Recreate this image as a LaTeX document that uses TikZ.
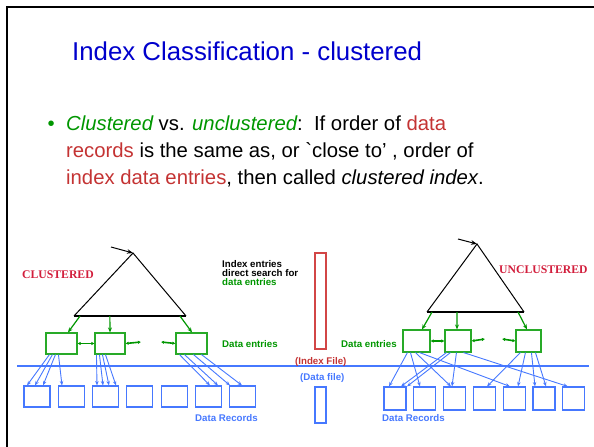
\documentclass[tikz,border=0pt]{standalone}
\usepackage{fontspec}
\setmainfont{Liberation Sans}
\newfontfamily\slidefont{Liberation Sans}
\newfontfamily\labelserif{Liberation Serif}
\usetikzlibrary{arrows.meta,calc}

\definecolor{titleblue}{RGB}{0,0,204}
\definecolor{termgreen}{RGB}{0,150,0}
\definecolor{termred}{RGB}{196,51,51}
\definecolor{boxgreen}{RGB}{40,170,40}
\definecolor{arrowgreen}{RGB}{0,150,0}
\definecolor{recblue}{RGB}{70,120,255}
\definecolor{filered}{RGB}{210,70,70}
\definecolor{capred}{RGB}{210,30,60}

\begin{document}
\begin{tikzpicture}[x=1bp,y=-1bp,
  txt/.style={inner sep=0pt,anchor=base west},
  bodytext/.style={txt,font=\slidefont\fontsize{20.3bp}{27bp}\selectfont},
  smalllabel/.style={txt,font=\bfseries\fontsize{9.7bp}{9bp}\selectfont},
  caplabel/.style={txt,text=capred,font=\labelserif\bfseries\fontsize{11.7bp}{13bp}\selectfont},
  entrybox/.style={draw=boxgreen,line width=1.1bp,inner sep=0pt,fill=white},
  recbox/.style={draw=recblue,line width=1.1bp,inner sep=0pt,fill=white},
  treeline/.style={draw=black,line width=1bp},
  downarrow/.style={draw=arrowgreen,line width=1.2bp,-{Stealth[length=5bp,width=4bp]}},
  linkarrow/.style={draw=arrowgreen,line width=1.6bp,{Latex[length=3bp,width=3.5bp]}-{Latex[length=3bp,width=3.5bp]}},
  recarrow/.style={draw=recblue,line width=0.9bp,-{Stealth[length=4.5bp,width=3.5bp]}},
  entryarrow/.style={draw=black,line width=1bp,-{Stealth[length=6bp,width=4.5bp]}}
]
\useasboundingbox (0,0) rectangle (594,447);

% slide frame
\draw[line width=2bp] (7,448) -- (7,7) -- (595,7);

% title and bullet text
\node[txt,text=titleblue,font=\slidefont\fontsize{25.8bp}{32bp}\selectfont] (title) at (72,61) {Index Classification - clustered};
\node[bodytext,text=termgreen] (bullet) at (47.5,131) {\textbullet};
\node[bodytext] (line1) at (66,131) {\textcolor{termgreen}{\itshape Clustered} vs. \textcolor{termgreen}{\itshape unclustered}:\ \ If order of \textcolor{termred}{data}};
\node[bodytext] (line2) at (66,158) {\textcolor{termred}{records} is the same as, or `close to’ , order of};
\node[bodytext] (line3) at (66,185) {\textcolor{termred}{index data entries}, then called {\itshape clustered index}.};

% ---------- clustered index (left) ----------
\coordinate (LA) at (133,253);
\coordinate (LL) at (74,316);
\coordinate (LR) at (186,316);
\coordinate (Lin) at (111,247);
\draw[treeline] (LL) -- (LA) -- (LR);
\draw[line width=1.8bp] (LL) -- (LR);
\draw[entryarrow] (Lin) -- (LA);

\node[entrybox,minimum width=31bp,minimum height=21bp] (Lb1) at (61.5,343.5) {};
\node[entrybox,minimum width=30bp,minimum height=21bp] (Lb2) at (110,343.5) {};
\node[entrybox,minimum width=31bp,minimum height=21bp] (Lb3) at (191.5,343.5) {};

\draw[downarrow] ($(LL)!0.054!(LR)$) -- ($(Lb1.north)+(6.5,0)$);
\draw[downarrow] ($(LL)!0.32!(LR)$) -- (Lb2.north);
\draw[downarrow] ($(LL)!0.946!(LR)$) -- ($(Lb3.north)+(0.5,0)$);

\coordinate (Lgap1) at (141,342);
\coordinate (Lgap2) at (161,342);
\draw[linkarrow] (Lb1.east) -- (Lb2.west);
\draw[linkarrow] (Lb2.east) -- (Lgap1);
\draw[linkarrow] (Lgap2) -- (Lb3.west);

\foreach \k in {1,...,7}
  \node[recbox,minimum width=26bp,minimum height=21bp] (Lr\k) at ({37+34.3*(\k-1)},396.5) {};

\foreach \s/\r/\t in {4/Lr1/-10,7/Lr1/-2,10/Lr1/6,13/Lr2/-9.3}
  \draw[recarrow] ($(Lb1.south west)+(\s,0)$) -- ($(\r.north)+(\t,0)$);
\foreach \s/\r/\t in {2/Lr3/-8.6,5/Lr3/-2.6,8/Lr3/3.4,11/Lr3/10.4}
  \draw[recarrow] ($(Lb2.south west)+(\s,0)$) -- ($(\r.north)+(\t,0)$);
\foreach \s/\r/\t in {4/Lr6/1.5,9/Lr6/9.5,18/Lr7/-12.8,26/Lr7/-0.8}
  \draw[recarrow] ($(Lb3.south west)+(\s,0)$) -- ($(\r.north)+(\t,0)$);

\node[caplabel] (clust) at (22,279) {CLUSTERED};
% base of a multi-line node sits on its last line
\node[smalllabel,align=left,anchor=base west] (search) at (222,286) {Index entries\\direct search for\\\textcolor{termgreen}{data entries}};
\node[smalllabel,text=termgreen] (Lde) at (222,347) {Data entries};
\node[smalllabel,text=recblue] (Ldr) at (195,421) {Data Records};

% ---------- file split ----------
\draw[recblue,line width=1.1bp] (17,366) coordinate (split0) -- (589,366) coordinate (split1);
\node[draw=filered,line width=1.1bp,inner sep=0pt,minimum width=11bp,minimum height=96bp] (idxfile) at (320.5,301) {};
\node[draw=recblue,line width=1.1bp,inner sep=0pt,minimum width=11bp,minimum height=36bp] (datfile) at (320.5,405) {};
\node[smalllabel,text=termred] (idxlbl) at (295,364) {(Index File)};
\node[smalllabel,text=recblue] (datlbl) at (300,380) {(Data file)};

% ---------- unclustered index (right) ----------
\coordinate (RA) at (477,244);
\coordinate (RL) at (427,312);
\coordinate (RR) at (524,312);
\coordinate (Rin) at (458,239);
\draw[treeline] (RL) -- (RA) -- (RR);
\draw[line width=1.8bp] (RL) -- (RR);
\draw[entryarrow] (Rin) -- (RA);

\node[entrybox,minimum width=27bp,minimum height=22bp] (Rb1) at (416.5,341) {};
\node[entrybox,minimum width=26bp,minimum height=22bp] (Rb2) at (458,341) {};
\node[entrybox,minimum width=25bp,minimum height=22bp] (Rb3) at (528.5,341) {};

\draw[downarrow] ($(RL)!0.052!(RR)$) -- ($(Rb1.north)+(5.5,0)$);
\draw[downarrow] ($(RL)!0.309!(RR)$) -- ($(Rb2.north)+(-1,0)$);
\draw[downarrow] ($(RL)!0.938!(RR)$) -- ($(Rb3.north)+(-1.5,0)$);

\coordinate (Rgap1) at (485,339);
\coordinate (Rgap2) at (502,339);
\draw[linkarrow] (Rb1.east) -- (Rb2.west);
\draw[linkarrow] (Rb2.east) -- (Rgap1);
\draw[linkarrow] (Rgap2) -- (Rb3.west);

\foreach \k in {1,...,7}
  \node[recbox,minimum width=22bp,minimum height=23bp] (Rr\k) at ({395+29.8*(\k-1)},398.5) {};

\foreach \s/\r/\t in {5/Rr1/-6,8/Rr2/-4.8,13/Rr3/-3.6,17/Rr5/-4.2}
  \draw[recarrow] ($(Rb1.south west)+(\s,0)$) -- ($(\r.north)+(\t,0)$);
\foreach \s/\r/\t in {2/Rr1/6,6/Rr1/12,12/Rr3/-2.6,19/Rr7/-6}
  \draw[recarrow] ($(Rb2.south west)+(\s,0)$) -- ($(\r.north)+(\t,0)$);
\foreach \s/\r/\t in {5/Rr4/2.6,10/Rr5/3.8,16/Rr6/-9,20/Rr6/2}
  \draw[recarrow] ($(Rb3.south west)+(\s,0)$) -- ($(\r.north)+(\t,0)$);

\node[caplabel] (unclust) at (499,274) {UNCLUSTERED};
\node[smalllabel,text=termgreen] (Rde) at (341,347) {Data entries};
\node[smalllabel,text=recblue] (Rdr) at (382,421) {Data Records};
\end{tikzpicture}
\end{document}
